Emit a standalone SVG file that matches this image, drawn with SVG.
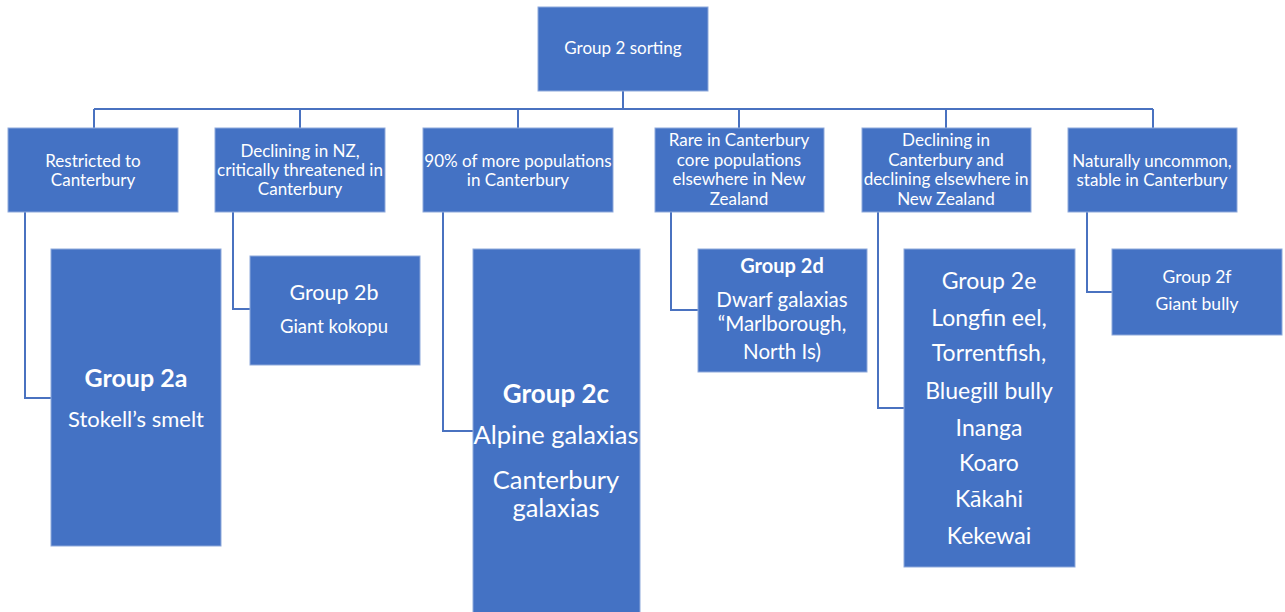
<svg xmlns="http://www.w3.org/2000/svg" width="1285" height="612" viewBox="0 0 1285 612">
  <style>
    .box { fill: #4472C4; stroke: #8EA9DB; stroke-width: 1; }
    .wire { fill: none; stroke: #4A72C0; stroke-width: 2; }
    text { font-family: Lato, "Liberation Sans", sans-serif; fill: #FFFFFF; text-anchor: middle; }
    .t1 { font-size: 17px; }
    .bold { font-weight: bold; }
  </style>

  <rect x="0" y="0" width="1285" height="612" fill="#FFFFFF"/>

  <!-- connectors -->
  <g id="connectors">
    <path class="wire" d="M623 91 V109"/>
    <path class="wire" d="M94 109 H1153"/>
    <path class="wire" d="M94 109 V128 M300 109 V128 M518 109 V128 M739 109 V128 M946 109 V128 M1153 109 V128"/>
    <path class="wire" d="M25 212 V398 H51"/>
    <path class="wire" d="M233 212 V309 H250"/>
    <path class="wire" d="M443 212 V431 H474"/>
    <path class="wire" d="M671 212 V310 H698"/>
    <path class="wire" d="M878 212 V408 H904"/>
    <path class="wire" d="M1087 212 V292 H1112"/>
  </g>

  <!-- root -->
  <g id="root">
    <rect class="box" x="538" y="7" width="170" height="84"/>
    <text class="t1" x="623" y="54">Group 2 sorting</text>
  </g>

  <!-- categories -->
  <g id="cat-restricted">
    <rect class="box" x="8" y="128" width="170" height="84"/>
    <text class="t1" x="93" y="167">Restricted to</text>
    <text class="t1" x="93" y="186">Canterbury</text>
  </g>
  <g id="cat-declining-nz">
    <rect class="box" x="215" y="128" width="170" height="84"/>
    <text class="t1" x="300" y="157">Declining in NZ,</text>
    <text class="t1" x="300" y="176">critically threatened in</text>
    <text class="t1" x="300" y="195">Canterbury</text>
  </g>
  <g id="cat-ninety">
    <rect class="box" x="423" y="128" width="190" height="84"/>
    <text class="t1" x="518" y="167">90% of more populations</text>
    <text class="t1" x="518" y="186">in Canterbury</text>
  </g>
  <g id="cat-rare">
    <rect class="box" x="655" y="128" width="169" height="84"/>
    <text class="t1" x="739" y="146">Rare in Canterbury</text>
    <text class="t1" x="739" y="166">core populations</text>
    <text class="t1" x="739" y="185">elsewhere in New</text>
    <text class="t1" x="739" y="205">Zealand</text>
  </g>
  <g id="cat-declining-cant">
    <rect class="box" x="862" y="128" width="169" height="84"/>
    <text class="t1" x="946" y="146">Declining in</text>
    <text class="t1" x="946" y="166">Canterbury and</text>
    <text class="t1" x="946" y="185">declining elsewhere in</text>
    <text class="t1" x="946" y="205">New Zealand</text>
  </g>
  <g id="cat-uncommon">
    <rect class="box" x="1068" y="128" width="169" height="84"/>
    <text class="t1" x="1152" y="167">Naturally uncommon,</text>
    <text class="t1" x="1152" y="186">stable in Canterbury</text>
  </g>

  <!-- groups -->
  <g id="group-2a">
    <rect class="box" x="51" y="249" width="170" height="297"/>
    <text class="bold" x="136" y="387" font-size="25">Group 2a</text>
    <text x="136" y="427" font-size="22">Stokell’s smelt</text>
  </g>
  <g id="group-2b">
    <rect class="box" x="250" y="256" width="170" height="109"/>
    <text x="334" y="300" font-size="21.5">Group  2b</text>
    <text x="334" y="333" font-size="18.5">Giant kokopu</text>
  </g>
  <g id="group-2c">
    <rect class="box" x="473" y="249" width="167" height="370"/>
    <text class="bold" x="556" y="403" font-size="26">Group 2c</text>
    <text x="556" y="444" font-size="25.5">Alpine galaxias</text>
    <text x="556" y="489" font-size="25.5">Canterbury</text>
    <text x="556" y="517" font-size="25.5">galaxias</text>
  </g>
  <g id="group-2d">
    <rect class="box" x="698" y="249" width="169" height="123"/>
    <text class="bold" x="782" y="273" font-size="20">Group 2d</text>
    <text x="782" y="307" font-size="20.5">Dwarf galaxias</text>
    <text x="782" y="331" font-size="20.5">“Marlborough,</text>
    <text x="782" y="359" font-size="20.5">North Is)</text>
  </g>
  <g id="group-2e">
    <rect class="box" x="904" y="249" width="171" height="318"/>
    <text x="989" y="289" font-size="23">Group  2e</text>
    <text x="989" y="326" font-size="23">Longfin eel,</text>
    <text x="989" y="361" font-size="23">Torrentfish,</text>
    <text x="989" y="399" font-size="23">Bluegill bully</text>
    <text x="989" y="436" font-size="23">Inanga</text>
    <text x="989" y="471" font-size="23">Koaro</text>
    <text x="989" y="507" font-size="23">Kākahi</text>
    <text x="989" y="544" font-size="23">Kekewai</text>
  </g>
  <g id="group-2f">
    <rect class="box" x="1112" y="249" width="170" height="86"/>
    <text x="1197" y="283" font-size="17.5">Group 2f</text>
    <text x="1197" y="310" font-size="17.5">Giant bully</text>
  </g>
</svg>
